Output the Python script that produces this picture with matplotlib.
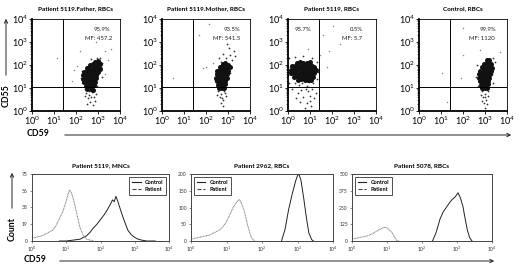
import numpy as np
import matplotlib.pyplot as plt
from matplotlib.patches import FancyArrowPatch
from matplotlib.lines import Line2D

plt.rcParams['font.family'] = ['Lato', 'DejaVu Sans']
plt.rcParams['mathtext.default'] = 'regular'

W, H = 520, 269

# ---------------- dot plots, values as (log10 CD59, log10 CD55) ----------------
father_core = [(2.85, 2.15), (2.98, 2.18), (3.05, 2.1),
               (2.62, 2.0), (2.75, 2.03), (2.88, 2.0), (3.0, 1.98), (3.1, 2.04),
               (2.48, 1.85), (2.6, 1.88), (2.72, 1.84), (2.84, 1.87), (2.96, 1.85), (3.08, 1.83),
               (2.38, 1.7), (2.5, 1.72), (2.62, 1.68), (2.74, 1.71), (2.86, 1.7), (2.98, 1.68),
               (2.32, 1.55), (2.44, 1.57), (2.56, 1.53), (2.68, 1.56), (2.8, 1.54), (2.92, 1.56),
               (2.33, 1.4), (2.45, 1.42), (2.57, 1.38), (2.69, 1.41), (2.81, 1.39), (2.92, 1.42),
               (2.38, 1.25), (2.5, 1.27), (2.62, 1.23), (2.74, 1.26), (2.86, 1.24),
               (2.45, 1.1), (2.57, 1.12), (2.69, 1.08), (2.8, 1.11),
               (2.5, 0.95), (2.66, 0.97), (2.78, 0.93)]
father_tail = [(2.45, 0.8), (2.6, 0.7), (2.72, 0.82), (2.55, 0.55), (2.8, 0.6), (2.65, 0.4),
               (2.5, 0.3), (2.75, 0.25), (2.9, 0.75), (2.4, 0.65), (3.15, 1.9), (3.2, 1.5),
               (2.25, 1.75), (2.3, 1.2), (2.95, 2.3), (3.1, 2.3), (2.7, 2.25), (2.58, 0.88),
               (2.68, 0.62), (2.85, 0.45), (2.42, 0.95), (2.95, 1.1), (2.22, 1.45), (3.18, 2.1)]
father_out = [(1.15, 2.3), (1.9, 1.8), (2.2, 2.6), (2.05, 1.95), (3.3, 2.6), (3.6, 2.7),
              (2.9, 3.0), (3.3, 1.6), (2.25, 1.2), (1.8, 1.3), (3.45, 2.2)]

mother_core = [(2.75, 2.05), (2.88, 2.08), (3.0, 2.02),
               (2.62, 1.9), (2.74, 1.92), (2.86, 1.88), (2.98, 1.91), (3.08, 1.9),
               (2.52, 1.75), (2.64, 1.77), (2.76, 1.73), (2.88, 1.76), (3.0, 1.74),
               (2.48, 1.6), (2.6, 1.62), (2.72, 1.58), (2.84, 1.61), (2.96, 1.6),
               (2.47, 1.45), (2.59, 1.47), (2.71, 1.43), (2.83, 1.46), (2.94, 1.44),
               (2.5, 1.3), (2.62, 1.32), (2.74, 1.28), (2.86, 1.31),
               (2.54, 1.15), (2.66, 1.17), (2.78, 1.13), (2.88, 1.16),
               (2.58, 1.0), (2.72, 1.02), (2.84, 0.98)]
mother_tail = [(2.55, 0.85), (2.7, 0.75), (2.82, 0.88), (2.62, 0.6), (2.78, 0.5), (2.66, 0.35),
               (2.9, 0.65), (2.5, 0.7), (2.75, 0.2), (2.9, 2.3), (3.1, 2.45), (3.25, 2.6),
               (2.75, 2.5), (3.05, 2.75), (3.3, 2.4), (2.95, 2.9), (3.2, 2.2), (2.6, 2.3),
               (2.6, 0.9), (2.72, 0.55), (2.85, 0.8), (2.4, 1.35), (3.1, 1.65), (2.68, 2.15)]
mother_out = [(0.5, 1.45), (1.85, 1.85), (2.0, 1.9), (2.15, 3.8), (1.7, 3.3), (2.3, 2.1)]

patient_core = [(0.4, 2.1), (0.55, 2.12), (0.7, 2.08), (0.85, 2.1), (1.0, 2.12),
                (0.2, 1.95), (0.33, 1.97), (0.46, 1.93), (0.59, 1.96), (0.72, 1.94), (0.85, 1.97),
                (0.98, 1.94), (1.1, 1.96), (1.2, 1.93),
                (0.12, 1.8), (0.25, 1.82), (0.38, 1.78), (0.51, 1.81), (0.64, 1.79), (0.77, 1.82),
                (0.9, 1.78), (1.03, 1.81), (1.16, 1.79), (1.27, 1.8),
                (0.15, 1.65), (0.28, 1.67), (0.41, 1.63), (0.54, 1.66), (0.67, 1.64), (0.8, 1.67),
                (0.93, 1.63), (1.06, 1.66), (1.19, 1.64),
                (0.25, 1.5), (0.38, 1.52), (0.51, 1.48), (0.64, 1.51), (0.77, 1.49), (0.9, 1.52),
                (1.03, 1.48), (1.15, 1.5),
                (0.45, 1.35), (0.6, 1.37), (0.75, 1.33), (0.9, 1.36), (1.05, 1.34)]
patient_tail = [(0.05, 2.3), (0.3, 2.35), (0.7, 2.4), (1.1, 2.3), (1.3, 2.15), (0.02, 1.55),
                (0.05, 1.2), (0.3, 1.2), (1.3, 1.4), (1.35, 1.7), (0.5, 1.15), (0.85, 1.1),
                (1.15, 1.2), (0.6, 0.9), (0.9, 0.85), (1.1, 0.95), (0.45, 0.8), (0.7, 0.6),
                (1.0, 0.65), (1.2, 0.55), (0.55, 0.4), (0.85, 0.35), (1.05, 0.2), (0.35, 0.55),
                (0.75, 0.15), (1.25, 0.8), (0.2, 0.95), (0.02, 1.9), (0.03, 1.7), (0.65, 1.2),
                (0.95, 1.25), (0.8, 0.95), (1.02, 0.45)]
patient_out = [(1.6, 3.3), (2.05, 3.7), (1.85, 2.6), (1.75, 1.9), (2.35, 2.9), (0.9, 2.7), (1.45, 2.45)]

control_core = [(3.1, 2.2), (3.2, 2.22),
                (2.95, 2.05), (3.07, 2.07), (3.19, 2.03), (3.28, 2.06),
                (2.85, 1.9), (2.97, 1.92), (3.09, 1.88), (3.21, 1.91), (3.3, 1.89),
                (2.78, 1.75), (2.9, 1.77), (3.02, 1.73), (3.14, 1.76), (3.25, 1.74),
                (2.74, 1.6), (2.86, 1.62), (2.98, 1.58), (3.1, 1.61), (3.21, 1.59),
                (2.74, 1.45), (2.86, 1.47), (2.98, 1.43), (3.1, 1.46), (3.2, 1.44),
                (2.77, 1.3), (2.89, 1.32), (3.01, 1.28), (3.13, 1.31),
                (2.8, 1.15), (2.92, 1.17), (3.04, 1.13), (3.14, 1.16),
                (2.85, 1.0), (2.98, 1.02), (3.1, 0.98)]
control_tail = [(2.85, 0.85), (3.0, 0.75), (3.12, 0.88), (2.9, 0.6), (3.05, 0.5), (2.95, 0.35),
                (3.15, 0.65), (2.8, 0.7), (3.0, 0.15), (3.1, 0.3), (2.65, 2.0), (3.35, 2.3),
                (3.45, 2.15), (2.6, 1.5), (3.35, 1.2), (2.7, 1.1), (2.92, 0.9), (3.02, 0.62),
                (2.88, 0.45), (3.3, 1.6)]
control_out = [(1.9, 1.45), (1.05, 1.65), (1.27, 0.4), (2.0, 2.43), (2.77, 2.65), (3.68, 2.57), (2.0, 3.6)]

dot_titles = ['Patient 5119.Father, RBCs', 'Patient 5119.Mother, RBCs',
              'Patient 5119, RBCs', 'Control, RBCs']
dot_sets = [(father_core, father_tail, father_out),
            (mother_core, mother_tail, mother_out),
            (patient_core, patient_tail, patient_out),
            (control_core, control_tail, control_out)]
# quadrant texts: (text, log x, log y)
dot_texts = [[('95.9%', 3.2, 3.56), ('MF: 457.2', 3.03, 3.17)],
             [('93.5%', 3.16, 3.56), ('MF: 541.5', 2.93, 3.17)],
             [('95.7%', 0.68, 3.56), ('0.5%', 3.09, 3.56), ('MF: 5.7', 2.9, 3.17)],
             [('99.9%', 3.14, 3.56), ('MF: 1120', 2.86, 3.17)]]
gate_x, gate_y = 27, 11

# ---------------- histograms, log10 CD59 vs count ----------------
hA_pat_x = [0.0, 0.1, 0.2, 0.3, 0.4, 0.5, 0.6, 0.7, 0.8, 0.9, 1.0, 1.05, 1.1, 1.15, 1.2, 1.3, 1.4, 1.5, 1.6, 1.7, 1.8]
hA_pat_y = [3, 4, 5, 6, 8, 10, 12, 17, 25, 33, 45, 52, 57, 54, 48, 32, 15, 6, 2, 1, 0]
hA_con_x = [0.8, 1.0, 1.2, 1.4, 1.5, 1.6, 1.7, 1.8, 1.9, 2.0, 2.1, 2.2, 2.3, 2.35, 2.4, 2.45, 2.5, 2.6, 2.7, 2.8, 2.9, 3.0, 3.1, 3.2, 3.35, 3.6]
hA_con_y = [0, 0, 1, 2, 4, 6, 10, 15, 19, 24, 29, 35, 42, 46, 44, 50, 45, 33, 22, 12, 7, 4, 2, 1, 0, 0]

hB_pat_x = [0.0, 0.1, 0.2, 0.3, 0.4, 0.5, 0.6, 0.7, 0.8, 0.9, 1.0, 1.1, 1.2, 1.3, 1.35, 1.4, 1.5, 1.6, 1.7, 1.8]
hB_pat_y = [4, 8, 10, 13, 15, 17, 22, 27, 33, 42, 58, 80, 103, 118, 124, 118, 90, 45, 10, 0]
hB_con_x = [2.55, 2.65, 2.75, 2.85, 2.95, 3.0, 3.04, 3.1, 3.18, 3.25, 3.32, 3.4, 3.45]
hB_con_y = [0, 35, 94, 140, 180, 195, 200, 180, 124, 70, 24, 4, 0]

hC_pat_x = [0.0, 0.15, 0.3, 0.43, 0.55, 0.71, 0.8, 0.9, 0.95, 1.0, 1.14, 1.2, 1.28, 1.35]
hC_pat_y = [15, 22, 30, 37, 50, 74, 88, 100, 103, 98, 66, 35, 5, 0]
hC_con_x = [2.3, 2.4, 2.51, 2.6, 2.71, 2.8, 2.86, 2.95, 3.03, 3.1, 3.17, 3.23, 3.29, 3.36, 3.43]
hC_con_y = [0, 60, 160, 215, 257, 290, 309, 330, 360, 320, 257, 170, 88, 25, 0]

hist_titles = ['Patient 5119, MNCs', 'Patient 2962, RBCs', 'Patient 5078, RBCs']
hist_yticks = [[0, 19, 38, 56, 75], [0, 50, 100, 150, 200], [0, 125, 250, 375, 500]]
hist_data = [(hA_pat_x, hA_pat_y, hA_con_x, hA_con_y),
             (hB_pat_x, hB_pat_y, hB_con_x, hB_con_y),
             (hC_pat_x, hC_pat_y, hC_con_x, hC_con_y)]
legend_loc = ['upper right', 'upper left', 'upper left']

decade_labels = [r'$10^{%d}$' % i for i in range(5)]


def px_axes(fig, left, top, w, h):
    return fig.add_axes([left / W, 1 - (top + h) / H, w / W, h / H])


def arrow(fig, x0, y0, x1, y1):
    fig.add_artist(FancyArrowPatch((x0 / W, 1 - y0 / H), (x1 / W, 1 - y1 / H),
                                   transform=fig.transFigure, arrowstyle='->',
                                   mutation_scale=6, lw=0.7, color='#222'))


fig = plt.figure(figsize=(W / 100, H / 100), dpi=100)

# top row of dot plots
for i, left in enumerate([32, 162, 288, 419]):
    ax = px_axes(fig, left, 19, 88, 92)
    ax.set_xscale('log')
    ax.set_yscale('log')
    ax.set_xlim(1, 1e4)
    ax.set_ylim(1, 1e4)
    core, tail, out = dot_sets[i]
    for pts, s, col in [(out, 1.2, '#8a8a8a'), (tail, 1.6, '#333'), (core, 13, '#111')]:
        a = np.array(pts)
        ax.scatter(10 ** a[:, 0], 10 ** a[:, 1], s=s, c=col, linewidths=0)
    ax.axvline(gate_x, color='black', lw=0.7)
    ax.axhline(gate_y, color='black', lw=0.7)
    for t, lx, ly in dot_texts[i]:
        ax.text(10 ** lx, 10 ** ly, t, fontsize=4.3, ha='center', va='center', color='#222')
    ax.set_xticks([1, 10, 100, 1000, 10000])
    ax.set_yticks([1, 10, 100, 1000, 10000])
    ax.set_xticklabels(decade_labels)
    ax.set_yticklabels(decade_labels)
    ax.tick_params(which='major', labelsize=6.6, length=2, width=0.6, pad=0.8)
    ax.tick_params(which='minor', length=1.2, width=0.4)
    ax.yaxis.set_minor_formatter(plt.NullFormatter())
    ax.xaxis.set_minor_formatter(plt.NullFormatter())
    for side in ['top', 'right']:
        ax.spines[side].set_linewidth(0.6)
    for side in ['left', 'bottom']:
        ax.spines[side].set_linewidth(1.3)
    ax.set_title(dot_titles[i], fontsize=4.6, fontweight='bold', pad=6)

# bottom row of histograms
for i, (left, w) in enumerate([(32, 137), (191, 142), (352, 140)]):
    ax = px_axes(fig, left, 174, w, 67)
    px_, py_, cx_, cy_ = hist_data[i]
    ax.plot(10 ** np.array(cx_), cy_, color='#222', lw=0.7)
    ax.plot(10 ** np.array(px_), py_, color='#777', lw=0.7, ls=(0, (1, 0.6)))
    ax.set_xscale('log')
    ax.set_xlim(1, 1e4)
    ax.set_ylim(0, hist_yticks[i][-1])
    ax.set_yticks(hist_yticks[i])
    ax.set_xticks([1, 10, 100, 1000, 10000])
    ax.set_xticklabels(decade_labels)
    ax.xaxis.set_minor_formatter(plt.NullFormatter())
    ax.tick_params(which='major', labelsize=3.6, length=1.5, width=0.4, pad=1.5, colors='#333')
    ax.tick_params(which='minor', length=0.8, width=0.3)
    for sp in ax.spines.values():
        sp.set_linewidth(0.7)
        sp.set_color('#444')
    ax.set_title(hist_titles[i], fontsize=4.6, fontweight='bold', pad=5)
    handles = [Line2D([], [], color='#222', lw=0.8),
               Line2D([], [], color='#444', lw=0.8, ls='--')]
    leg = ax.legend(handles, ['Control', 'Patient'], loc=legend_loc[i],
                    frameon=True, fancybox=False, edgecolor='#222', handlelength=1.6,
                    borderpad=0.5, labelspacing=0.5, prop={'weight': 'bold', 'size': 4})
    leg.get_frame().set_linewidth(0.7)

# axis captions with arrows
fig.text(6 / W, 1 - 96 / H, 'CD55', rotation=90, fontsize=6.3, fontweight='bold',
         ha='center', va='center')
arrow(fig, 6, 78, 6, 16)
fig.text(38 / W, 1 - 134 / H, 'CD59', fontsize=6.3, fontweight='bold', ha='center', va='center')
arrow(fig, 62, 135, 514, 135)

fig.text(12 / W, 1 - 229 / H, 'Count', rotation=90, fontsize=6.3, fontweight='bold',
         ha='center', va='center')
arrow(fig, 12, 211, 12, 170)
fig.text(35 / W, 1 - 260 / H, 'CD59', fontsize=6.3, fontweight='bold', ha='center', va='center')
arrow(fig, 57, 261, 497, 261)

fig.savefig('out.png', dpi=100)
